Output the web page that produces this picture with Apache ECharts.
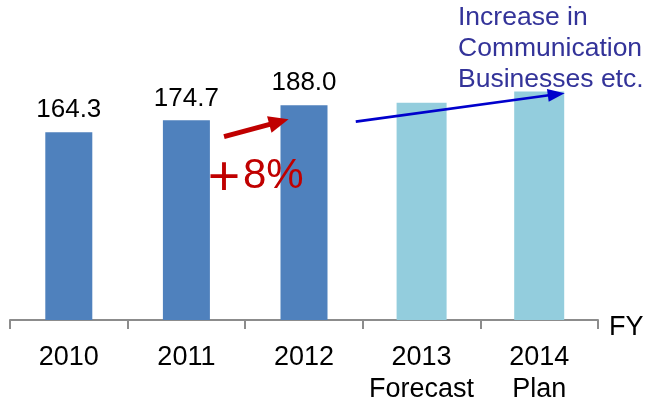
<!DOCTYPE html>
<html>
<head>
<meta charset="utf-8">
<script src="https://cdn.jsdelivr.net/npm/echarts@6/dist/echarts.min.js"></script>
<style>
  html, body { margin: 0; padding: 0; background: #ffffff; }
  #chart { width: 646px; height: 401px; }
</style>
</head>
<body>
<div id="chart"></div>
<script>
// Fiscal years on the category axis, with a second caption line where needed
const years = ['2010', '2011', '2012', '2013', '2014'];
const yearNotes = ['', '', '', 'Forecast', 'Plan'];
const axisUnit = 'FY';

// Results (dark bars) and outlook (light bars)
const actualValues = [164.3, 174.7, 188.0, null, null];
const outlookValues = [null, null, null, 190.0, 200.0];

// Callout texts
const growthSign = '＋';
const growthNote = '8%';
const driverNote = ['Increase in', 'Communication', 'Businesses etc.'];

// Arrow end points in chart space: [category position (0 = first year), value]
const growthArrow = [[1.32, 160.4], [1.787, 173.4]];
const driverArrow = [[2.44, 173.6], [4.145, 197.5]];

const FONT = "'Liberation Sans', Arial, Helvetica, sans-serif";
const DARK = '#4F81BD';
const LIGHT = '#93CDDD';
const AXIS_GRAY = '#8C8C8C';

const axisLabels = years.map((y, i) => yearNotes[i] ? y + '\n' + yearNotes[i] : y);

const chart = echarts.init(document.getElementById('chart'), null, { renderer: 'canvas' });

chart.setOption({
  animation: false,
  backgroundColor: '#ffffff',
  textStyle: { fontFamily: FONT },
  grid: {
    left: 10, right: 48, top: 0, bottom: 81,
    containLabel: false,
    outerBoundsMode: 'none'
  },
  xAxis: [
    {
      type: 'category',
      data: axisLabels,
      boundaryGap: true,
      axisLine: { show: true, lineStyle: { color: AXIS_GRAY, width: 2 } },
      axisTick: { show: true, length: 9, alignWithLabel: false, lineStyle: { color: AXIS_GRAY, width: 2 } },
      axisLabel: {
        show: true, interval: 0, margin: 21,
        fontSize: 27, lineHeight: 32.5, color: '#000000', fontFamily: FONT
      },
      splitLine: { show: false }
    },
    {
      // plain numeric axis spanning the same width, used to place the arrows
      type: 'value', min: -0.5, max: 4.5, show: false
    },
    {
      // twin category axis so the outlook bars get their own width
      type: 'category', data: years, show: false, boundaryGap: true
    }
  ],
  yAxis: [
    { type: 'value', min: 0, max: 280, show: false, splitLine: { show: false } }
  ],
  series: [
    {
      name: 'Results',
      type: 'bar',
      xAxisIndex: 0, yAxisIndex: 0,
      barWidth: 47,
      data: actualValues,
      itemStyle: { color: DARK },
      label: {
        show: true, position: 'top', distance: 9,
        fontSize: 26, color: '#000000', fontFamily: FONT,
        formatter: p => Number(p.value).toFixed(1)
      },
      emphasis: { disabled: true },
      z: 3
    },
    {
      name: 'Outlook',
      type: 'bar',
      xAxisIndex: 2, yAxisIndex: 0,
      barWidth: 50,
      data: outlookValues,
      itemStyle: { color: LIGHT },
      label: { show: false },
      emphasis: { disabled: true },
      z: 3
    },
    {
      name: 'Arrows',
      type: 'line',
      xAxisIndex: 1, yAxisIndex: 0,
      data: [],
      silent: true,
      z: 5,
      markLine: {
        silent: true,
        animation: false,
        symbol: ['none', 'triangle'],
        label: { show: false },
        emphasis: { disabled: true },
        data: [
          [
            { coord: growthArrow[0], lineStyle: { color: '#C00000', width: 5, type: 'solid' }, symbol: 'none' },
            { coord: growthArrow[1], lineStyle: { color: '#C00000', width: 5, type: 'solid' }, symbol: 'triangle', symbolSize: [17, 20], itemStyle: { color: '#C00000' } }
          ],
          [
            { coord: driverArrow[0], lineStyle: { color: '#0000CC', width: 2.7, type: 'solid' }, symbol: 'none' },
            { coord: driverArrow[1], lineStyle: { color: '#0000CC', width: 2.7, type: 'solid' }, symbol: 'triangle', symbolSize: [13, 17], itemStyle: { color: '#0000CC' } }
          ]
        ]
      }
    }
  ],
  graphic: [
    {
      type: 'text',
      x: 609, y: 327.5,
      silent: true,
      style: {
        text: axisUnit,
        fontSize: 27, fontFamily: FONT, fill: '#000000',
        align: 'left', verticalAlign: 'middle'
      }
    },
    {
      type: 'text',
      x: 205, y: 176,
      silent: true,
      style: {
        text: '{s|' + growthSign + '}{n|' + growthNote + '}',
        verticalAlign: 'middle',
        rich: {
          s: {
            fontSize: 38, fontWeight: 'bold',
            fontFamily: "'Noto Sans CJK JP', sans-serif",
            fill: '#C00000', color: '#C00000'
          },
          n: {
            fontSize: 42,
            fontFamily: FONT,
            fill: '#C00000', color: '#C00000'
          }
        }
      },
      z: 10
    },
    {
      type: 'text',
      left: 458, top: 2.5,
      silent: true,
      style: {
        text: driverNote.join('\n'),
        fontSize: 26.5,
        lineHeight: 30.7,
        fontFamily: FONT,
        fill: '#333399'
      },
      z: 10
    }
  ]
});
</script>
</body>
</html>
